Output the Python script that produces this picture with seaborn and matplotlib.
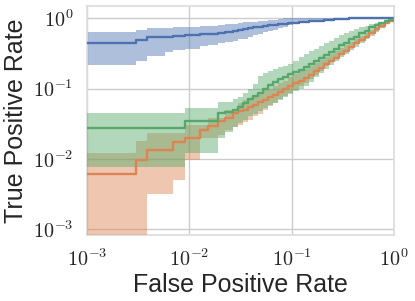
import numpy as np
import pandas as pd
import matplotlib
matplotlib.use("Agg")
import matplotlib.pyplot as plt
from matplotlib.ticker import FuncFormatter, LogLocator, NullLocator
import seaborn as sns

# ---- data ----
fpr = [0.001, 0.0030, 0.0039, 0.0058, 0.0069, 0.0091, 0.0127, 0.0152, 0.0191,
       0.0224, 0.0267, 0.0299,
       0.0335, 0.0375, 0.042, 0.047, 0.053, 0.059, 0.066, 0.074, 0.083, 0.093,
       0.104, 0.117, 0.131, 0.147, 0.165, 0.185, 0.207, 0.232, 0.26, 0.29,
       0.325, 0.365, 0.41, 0.46, 0.515, 0.575, 0.645, 0.72, 0.81, 0.9, 1.0]

blue_mean = [0.445, 0.49, 0.54, 0.55, 0.56, 0.58, 0.59, 0.60, 0.62, 0.64, 0.66, 0.68,
             0.70, 0.72, 0.74, 0.76, 0.78, 0.80, 0.815, 0.83, 0.84, 0.85,
             0.865, 0.88, 0.89, 0.905, 0.915, 0.925, 0.94, 0.95, 0.965, 0.975,
             0.985, 0.995, 1.0, 1.0, 1.0, 1.0, 1.0, 1.0, 1.0, 1.0, 1.0]
blue_low = [0.217, 0.25, 0.29, 0.33, 0.35, 0.37, 0.40, 0.42, 0.44, 0.46, 0.48, 0.50,
            0.51, 0.54, 0.57, 0.60, 0.63, 0.66, 0.69, 0.72, 0.76, 0.79,
            0.82, 0.85, 0.87, 0.89, 0.92, 0.95, 0.97, 0.98, 0.99, 0.99,
            0.995, 1.0, 1.0, 1.0, 1.0, 1.0, 1.0, 1.0, 1.0, 1.0, 1.0]
blue_high = [0.63, 0.68, 0.72, 0.73, 0.74, 0.76, 0.77, 0.78, 0.80, 0.82, 0.84, 0.86,
             0.88, 0.89, 0.90, 0.92, 0.93, 0.95, 0.96, 0.98, 1.0, 1.0,
             1.0, 1.0, 1.0, 1.0, 1.0, 1.0, 1.0, 1.0, 1.0, 1.0,
             1.0, 1.0, 1.0, 1.0, 1.0, 1.0, 1.0, 1.0, 1.0, 1.0, 1.0]

orange_mean = [0.006, 0.0095, 0.0133, 0.0133, 0.0171, 0.0195, 0.0259, 0.0289,
               0.034, 0.038, 0.0446, 0.048,
               0.050, 0.054, 0.059, 0.064, 0.069, 0.075, 0.082, 0.089, 0.098, 0.108,
               0.118, 0.13, 0.142, 0.157, 0.177, 0.197, 0.22, 0.245, 0.275, 0.31,
               0.345, 0.39, 0.44, 0.49, 0.55, 0.62, 0.70, 0.78, 0.86, 0.93, 1.0]
orange_low = [1e-5, 1e-5, 0.0032, 0.0032, 0.005, 0.0097, 0.020, 0.020, 0.022,
              0.026, 0.028, 0.030,
              0.033, 0.036, 0.040, 0.044, 0.050, 0.056, 0.063, 0.070, 0.078, 0.085,
              0.095, 0.11, 0.12, 0.135, 0.155, 0.18, 0.21, 0.245, 0.28, 0.32,
              0.355, 0.40, 0.45, 0.50, 0.55, 0.61, 0.67, 0.73, 0.82, 0.91, 1.0]
orange_high = [0.0122, 0.018, 0.023, 0.023, 0.023, 0.030, 0.030, 0.038, 0.038,
               0.049, 0.049, 0.062,
               0.068, 0.074, 0.081, 0.088, 0.095, 0.10, 0.11, 0.12, 0.13, 0.145,
               0.16, 0.175, 0.19, 0.21, 0.23, 0.255, 0.28, 0.31, 0.345, 0.38,
               0.42, 0.46, 0.51, 0.56, 0.62, 0.68, 0.75, 0.82, 0.89, 0.95, 1.0]

green_mean = [0.0272, 0.0272, 0.0272, 0.0272, 0.0272, 0.034, 0.034, 0.034,
              0.045, 0.046, 0.050, 0.055,
              0.062, 0.070, 0.078, 0.086, 0.100, 0.112, 0.125, 0.135, 0.148, 0.160,
              0.172, 0.185, 0.205, 0.225, 0.245, 0.27, 0.30, 0.33, 0.37, 0.41,
              0.45, 0.50, 0.55, 0.61, 0.67, 0.74, 0.81, 0.87, 0.92, 0.96, 1.0]
green_low = [0.0077, 0.0077, 0.0077, 0.0077, 0.0077, 0.012, 0.012, 0.012,
             0.020, 0.024, 0.028, 0.032,
             0.036, 0.040, 0.044, 0.048, 0.053, 0.058, 0.062, 0.068, 0.075, 0.083,
             0.092, 0.10, 0.11, 0.125, 0.145, 0.165, 0.19, 0.215, 0.245, 0.28,
             0.31, 0.35, 0.39, 0.44, 0.50, 0.56, 0.63, 0.72, 0.82, 0.91, 1.0]
green_high = [0.045, 0.045, 0.045, 0.045, 0.045, 0.052, 0.052, 0.052, 0.065,
              0.065, 0.072, 0.077,
              0.085, 0.10, 0.115, 0.15, 0.165, 0.175, 0.19, 0.20, 0.21, 0.225,
              0.25, 0.28, 0.31, 0.34, 0.37, 0.40, 0.44, 0.48, 0.52, 0.57,
              0.61, 0.65, 0.70, 0.74, 0.78, 0.82, 0.86, 0.90, 0.94, 0.97, 1.0]

series = [("A", blue_mean, blue_low, blue_high),
          ("B", orange_mean, orange_low, orange_high),
          ("C", green_mean, green_low, green_high)]

# ---- style ----
sns.set_theme(style="whitegrid")
plt.rcParams["font.family"] = ["Liberation Sans", "DejaVu Sans"]
plt.rcParams["mathtext.fontset"] = "cm"
palette = sns.color_palette("deep")

fig = plt.figure(figsize=(4.15, 3.01), dpi=100)
ax = fig.add_axes([87 / 415, 1 - 235 / 301, (394 - 87) / 415, (235 - 6) / 301])

frames = []
for name, m, lo, hi in series:
    frames.append(pd.DataFrame({"fpr": fpr, "tpr": m, "model": name}))
df = pd.concat(frames, ignore_index=True)

for i, (name, m, lo, hi) in enumerate(series):
    ax.fill_between(fpr, lo, hi, step="post", color=palette[i], alpha=0.45,
                    linewidth=0, zorder=2 + i)
    sub = df[df["model"] == name]
    sns.lineplot(data=sub, x="fpr", y="tpr", ax=ax, color=palette[i],
                 drawstyle="steps-post", linewidth=1.7, estimator=None,
                 legend=False, zorder=5 + i)

ax.set_xscale("log")
ax.set_yscale("log")
ax.set_xlim(1e-3, 1.0)
ax.set_ylim(10 ** -3.085, 10 ** 0.175)

fmt = FuncFormatter(lambda v, p: r"$10^{%d}$" % int(round(np.log10(v))))
for axis in (ax.xaxis, ax.yaxis):
    axis.set_major_locator(LogLocator(base=10, numticks=10))
    axis.set_minor_locator(NullLocator())
    axis.set_major_formatter(fmt)
ax.tick_params(axis="both", labelsize=14.5, pad=4)

ax.set_xlabel("False Positive Rate", fontsize=18, labelpad=2)
ax.set_ylabel("True Positive Rate", fontsize=18, labelpad=3)

for s in ax.spines.values():
    s.set_color("#dddddd")

fig.savefig("out.png", dpi=100)
